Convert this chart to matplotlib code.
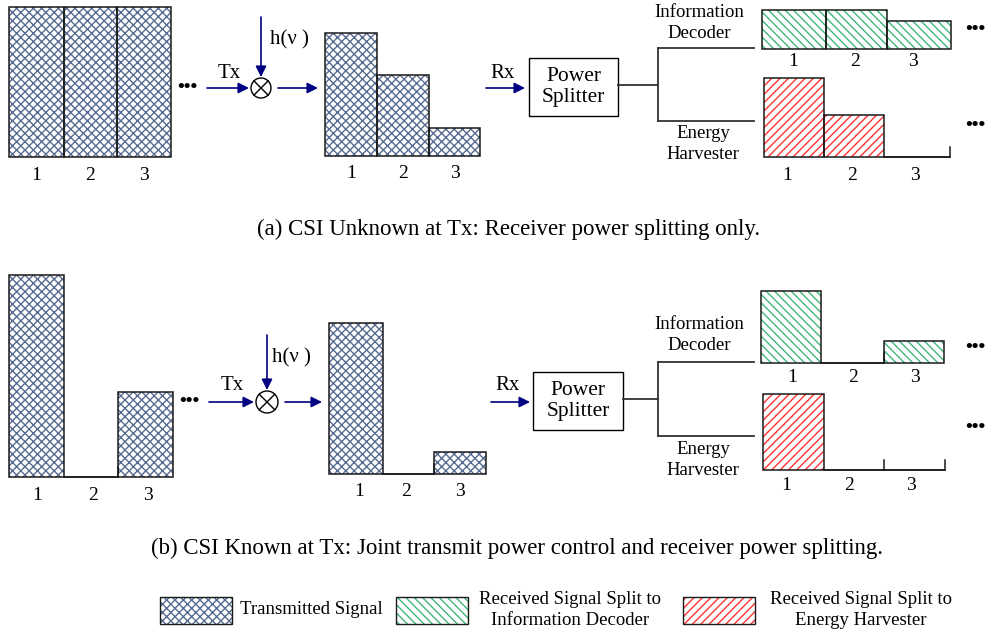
import numpy as np
import matplotlib
matplotlib.use("Agg")
import matplotlib.pyplot as plt
from matplotlib.patches import Rectangle, Circle

plt.rcParams["font.family"] = ["Liberation Serif", "DejaVu Serif"]
plt.rcParams["hatch.linewidth"] = 1.0

# relative power per sub-channel (1 unit = full-height bar of panel a)
tx_a = [1.0, 1.0, 1.0]
rx_a = [0.82, 0.54, 0.19]
id_a = [0.26, 0.26, 0.19]
eh_a = [0.53, 0.28, 0.0]

tx_b = [1.35, 0.0, 0.57]
rx_b = [1.01, 0.0, 0.15]
id_b = [0.48, 0.0, 0.15]
eh_b = [0.51, 0.0, 0.0]

channels = ["1", "2", "3"]
caption_a = "(a) CSI Unknown at Tx: Receiver power splitting only."
caption_b = "(b) CSI Known at Tx: Joint transmit power control and receiver power splitting."
legend_labels = ["Transmitted Signal",
                 "Received Signal Split to\nInformation Decoder",
                 "Received Signal Split to\nEnergy Harvester"]

UNIT = 150  # px per unit
NAVY = "#000080"
EDGE = "#1a1a1a"
STYLES = {"tx": ("xxxx", "#586c92"), "id": ("\\\\\\\\", "#3cb878"), "eh": ("////", "#ff3333")}

fig = plt.figure(figsize=(9.87, 6.31), dpi=100)
ax = fig.add_axes([0, 0, 1, 1])
ax.set_xlim(0, 987)
ax.set_ylim(631, 0)
ax.axis("off")


def bars(edges, base, vals, kind, label_y, label_x=None, tick=10):
    edges = np.asarray(edges, float)
    lefts, widths = edges[:-1], np.diff(edges)
    h = -np.asarray(vals) * UNIT
    hatch, hc = STYLES[kind]
    ax.bar(lefts, h, width=widths, bottom=base, align="edge", color="white",
           edgecolor=hc, hatch=hatch, lw=0, zorder=2)
    ax.bar(lefts, h, width=widths, bottom=base, align="edge", fill=False,
           edgecolor=EDGE, lw=1.1, zorder=3)
    for l, r, v in zip(lefts, lefts + widths, vals):
        if v == 0:
            ax.plot([l, r], [base, base], color=EDGE, lw=1.1, zorder=3)
            ax.plot([r, r], [base, base - tick], color=EDGE, lw=1.1, zorder=3)
    xs = label_x if label_x is not None else lefts + widths / 2
    for x, c in zip(xs, channels):
        ax.text(x, label_y, c, ha="center", va="center", fontsize=14)


def dots(x, y):
    ax.text(x, y, "•••", ha="center", va="center", fontsize=14, fontweight="bold")


def arrow(x0, y0, x1, y1):
    ax.annotate("", xy=(x1, y1), xytext=(x0, y0),
                arrowprops=dict(arrowstyle="-|>", color=NAVY, lw=1.2, mutation_scale=16,
                                shrinkA=0, shrinkB=0))


def mixer(cx, cy, r):
    ax.add_patch(Circle((cx, cy), r, fill=False, ec="black", lw=1.0))
    d = r * 0.707
    ax.plot([cx - d, cx + d], [cy - d, cy + d], color="black", lw=1.0)
    ax.plot([cx - d, cx + d], [cy + d, cy - d], color="black", lw=1.0)


def chain(y, tx_x, txlab_y, cx, r, h_top, h_text, out_x, rx_x, box, split_y, branch, info_y, eh_y):
    dots(tx_x - 20, y)
    arrow(tx_x, y, cx - r - 2, y)
    ax.text((tx_x + cx - r) / 2, txlab_y, "Tx", ha="center", va="center", fontsize=15)
    mixer(cx, y, r)
    arrow(cx, h_top, cx, y - r - 1)
    ax.text(h_text[0], h_text[1], "h(ν )", ha="left", va="center", fontsize=15)
    arrow(cx + r + 7, y, out_x, y)
    arrow(rx_x, y, rx_x + 39, y)
    ax.text(rx_x + 17, txlab_y, "Rx", ha="center", va="center", fontsize=15)
    bx0, by0, bx1, by1 = box
    ax.add_patch(Rectangle((bx0, by0), bx1 - bx0, by1 - by0, fill=False, ec="black", lw=1.0))
    ax.text((bx0 + bx1) / 2, (by0 + by1) / 2, "Power\nSplitter", ha="center", va="center",
            fontsize=15.5, linespacing=1.15)
    vx, top, bot, end = branch
    ax.plot([bx1, vx], [split_y, split_y], color="#333", lw=1.3)
    ax.plot([vx, vx], [top, bot], color="#333", lw=1.3)
    ax.plot([vx, end], [top, top], color="#333", lw=1.3)
    ax.plot([vx, end], [bot, bot], color="#333", lw=1.3)
    ax.text(699, info_y, "Information\nDecoder", ha="center", va="center", fontsize=13.5,
            linespacing=1.35)
    ax.text(703, eh_y, "Energy\nHarvester", ha="center", va="center", fontsize=13.5,
            linespacing=1.35)


# ---- panel (a)
bars([9, 64, 117, 171], 157, tx_a, "tx", 175)
bars([325, 377, 429, 480], 156, rx_a, "tx", 173)
bars([762, 826, 887, 951], 49, id_a, "id", 62, label_x=[793, 855, 913])
bars([764, 824, 884, 950], 157, eh_a, "eh", 175, label_x=[787, 852, 915])
chain(88, 207, 73, 261, 10, 17, (270, 40), 318, 486, (529, 58, 618, 116), 85,
      (658, 48, 121, 754), 23, 144)
dots(975, 30)
dots(975, 125)
ax.text(509, 229, caption_a, ha="center", va="center", fontsize=16.5)

# ---- panel (b)
bars([9, 64, 118, 173], 477, tx_b, "tx", 495, label_x=[37, 93, 148])
bars([329, 383, 434, 486], 474, rx_b, "tx", 492, label_x=[359, 406, 460])
bars([761, 821, 884, 944], 363, id_b, "id", 378, label_x=[792, 853, 915])
bars([763, 824, 884, 945], 470, eh_b, "eh", 485, label_x=[786, 849, 911])
chain(402, 209, 386, 267, 11, 335, (272, 358), 322, 491, (533, 372, 623, 430), 399,
      (658, 362, 436, 754), 335, 460)
dots(975, 347)
dots(975, 427)
ax.text(517, 548, caption_b, ha="center", va="center", fontsize=16.5)

# ---- legend
for (x0, tx, tha), kind, lab in zip([(160, 240, "left"), (396, 570, "center"), (683, 861, "center")],
                                    ["tx", "id", "eh"], legend_labels):
    hatch, hc = STYLES[kind]
    ax.add_patch(Rectangle((x0, 597), 72, 27, facecolor="white", edgecolor=hc, hatch=hatch, lw=0))
    ax.add_patch(Rectangle((x0, 597), 72, 27, fill=False, edgecolor=EDGE, lw=1.0))
    ax.text(tx, 610, lab, ha=tha, va="center", fontsize=13.5, linespacing=1.25)

fig.savefig("out.png", dpi=100)
